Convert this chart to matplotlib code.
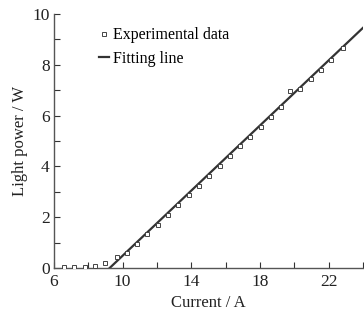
import matplotlib
matplotlib.use('Agg')
import matplotlib.pyplot as plt
import numpy as np

# measured points (current in A, light power in W)
current = [6.6, 7.2, 7.8, 8.4, 9.0, 9.65, 10.25, 10.85, 11.45, 12.05, 12.65,
           13.25, 13.85, 14.45, 15.05, 15.65, 16.25, 16.85, 17.45, 18.05,
           18.65, 19.25, 19.75, 20.35, 20.95, 21.55, 22.15, 22.85]
power = [0.04, 0.04, 0.04, 0.08, 0.2, 0.42, 0.58, 0.95, 1.33, 1.70, 2.10,
         2.47, 2.86, 3.22, 3.62, 4.02, 4.40, 4.79, 5.17, 5.56, 5.95, 6.33,
         6.98, 7.03, 7.42, 7.80, 8.19, 8.64]

# fitted line end points
fit_x = [9.25, 24]
fit_y = [0.0, 9.45]

plt.rcParams['font.family'] = ['Liberation Serif', 'DejaVu Serif']

fig = plt.figure(figsize=(3.64, 3.20), dpi=100)
ax = fig.add_axes([0.148, 0.1625, 0.849, 0.794])

ax.plot(fit_x, fit_y, color='#333333', lw=1.6, label='Fitting line', zorder=2)
ax.plot(current, power, 's', ms=3.0, mfc='white', mec='#444444', mew=0.7,
        label='Experimental data', zorder=3)

ax.set_xlim(6, 24)
ax.set_ylim(0, 10)
ax.set_xticks([6, 10, 14, 18, 22])
ax.set_xticks([8, 12, 16, 20, 24], minor=True)
ax.set_yticks([0, 2, 4, 6, 8, 10])
ax.set_yticks([1, 3, 5, 7, 9], minor=True)
ax.tick_params(which='both', direction='in', length=4, width=0.8,
               colors='#333333', labelsize=12.5, labelcolor='#222222')
ax.tick_params(axis='x', pad=4)
ax.tick_params(axis='y', pad=3)

for s in ['top', 'right']:
    ax.spines[s].set_visible(False)
for s in ['left', 'bottom']:
    ax.spines[s].set_color('#555555')
    ax.spines[s].set_linewidth(1.0)

ax.set_xlabel('Current / A', fontsize=12, color='#222222', labelpad=4)
ax.set_ylabel('Light power / W', fontsize=12, color='#222222', labelpad=3)

h, l = ax.get_legend_handles_labels()
ax.legend(h[::-1], l[::-1], loc='upper left', bbox_to_anchor=(0.115, 0.985),
          frameon=False, fontsize=11.5, handlelength=0.6, handletextpad=0.3,
          labelspacing=0.45, borderaxespad=0.2)

fig.savefig('out.png', dpi=100)
